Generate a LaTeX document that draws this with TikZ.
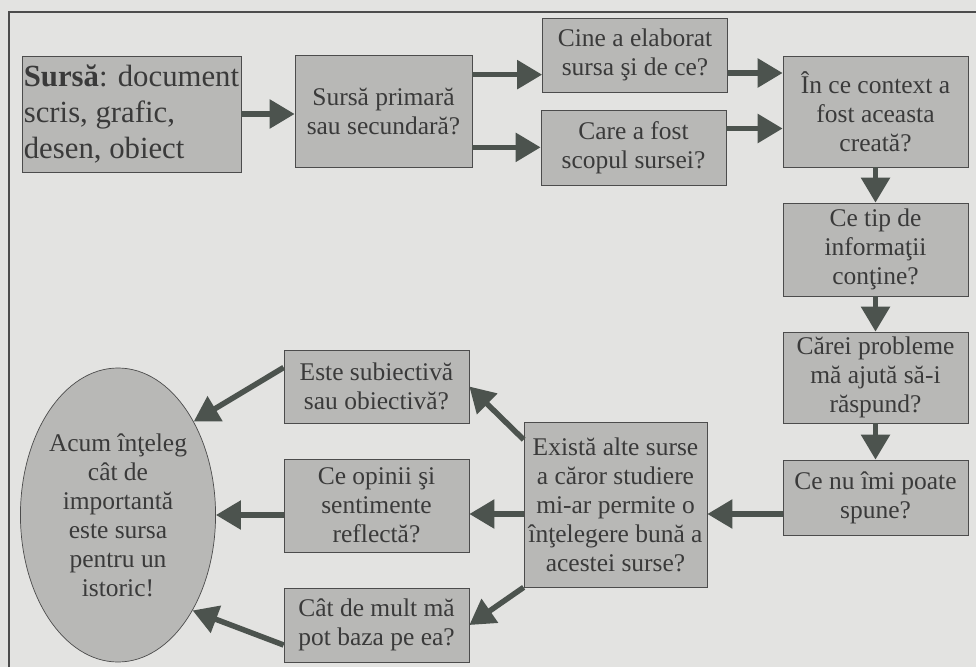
\documentclass[tikz,border=0pt]{standalone}
\usepackage{fontspec}
\setmainfont{Liberation Serif}
\usetikzlibrary{shapes.geometric,arrows.meta}

\definecolor{paper}{HTML}{E3E3E1}
\definecolor{boxgray}{HTML}{B8B8B6}
\definecolor{arrowgray}{HTML}{4C534E}
\definecolor{inkgray}{HTML}{3A3A3A}

\def \boxwidth {3.7cm}
\def \shaft {0.11cm}

\begin{document}
\begin{tikzpicture}[
  box/.style={draw=black!70, fill=boxgray, text=inkgray, align=center, inner sep=1pt,
    minimum width=\boxwidth, font=\fontsize{14.5}{16.5}\selectfont},
  arr/.style={draw=arrowgray, line width=\shaft, -{Triangle[length=0.5cm,width=0.56cm]}},
]
\fill[paper] (0,0) rectangle (19.52,-13.34);
\useasboundingbox (0,0) rectangle (19.52,-13.34);
\draw[line width=1.2pt, black!70] (0.18,-13.34) -- (0.18,-0.24) -- (19.52,-0.24);

% top row
\node[box, align=left, minimum width=4.34cm, minimum height=2.32cm,
  font=\fontsize{17.5}{20.5}\selectfont] (sursa) at (2.63,-2.28)
  {\textbf{Sursă}: document\\scris, grafic,\\desen, obiect};
\node[box, minimum width=3.54cm, minimum height=2.24cm] (tip) at (7.67,-2.22) {Sursă primară\\sau secundară?};
\node[box, minimum height=1.48cm] (cine) at (12.70,-1.10) {Cine a elaborat\\sursa şi de ce?};
\node[box, minimum height=1.50cm] (scop) at (12.67,-2.95) {Care a fost\\scopul sursei?};
\node[box, minimum height=2.22cm] (context) at (17.51,-2.23) {În ce context a\\fost aceasta\\creată?};

% right column
\node[box, minimum height=1.86cm] (info) at (17.51,-4.99) {Ce tip de\\informaţii\\conţine?};
\node[box, minimum height=1.82cm] (probleme) at (17.51,-7.55) {Cărei probleme\\mă ajută să-i\\răspund?};
\node[box, minimum height=1.50cm] (nuspune) at (17.51,-9.95) {Ce nu îmi poate\\spune?};

% bottom row
\node[box, minimum width=3.66cm, minimum height=3.30cm] (exista) at (12.31,-10.09)
  {Există alte surse\\a căror studiere\\mi-ar permite o\\înţelegere bună a\\acestei surse?};
\node[box, minimum height=1.46cm] (subiect) at (7.53,-7.73) {Este subiectivă\\sau obiectivă?};
\node[box, minimum height=1.86cm] (opinii) at (7.53,-10.11) {Ce opinii şi\\sentimente\\reflectă?};
\node[box, minimum height=1.48cm] (baza) at (7.53,-12.50) {Cât de mult mă\\pot baza pe ea?};
\node[box, ellipse, inner sep=0pt, minimum width=3.72cm, minimum height=5.88cm] (ell) at (2.36,-10.30)
  {Acum înţeleg\\cât de\\importantă\\este sursa\\pentru un\\istoric!};

\coordinate (t1) at ([yshift=-0.4cm]tip.north east);
\coordinate (t2) at ([yshift=0.4cm]tip.south east);
\coordinate (c1) at ([yshift=-0.36cm]cine.east);
\coordinate (s1) at ([yshift=0.38cm]scop.east);
\coordinate (n1) at ([yshift=-0.33cm]nuspune.west);
\coordinate (e1) at ([yshift=-0.36cm]exista.north west);
\coordinate (u1) at ([yshift=0.38cm]subiect.west);
\coordinate (b1) at ([yshift=-0.4cm]baza.west);

\draw[arr] (sursa.east) -- (sursa.east -| tip.west);
\draw[arr] (t1) -- (t1 -| cine.west);
\draw[arr] (t2) -- (t2 -| scop.west);
\draw[arr] (c1) -- (c1 -| context.west);
\draw[arr] (s1) -- (s1 -| context.west);
\draw[arr] (context.south) -- (info.north);
\draw[arr] (info.south) -- (probleme.north);
\draw[arr] (probleme.south) -- (nuspune.north);
\draw[arr] (n1) -- (n1 -| exista.east);
\draw[arr] (n1 -| exista.west) -- (n1 -| opinii.east);
\draw[arr] (e1) -- (subiect.east);
\draw[arr] (exista.south west) -- (baza.east);
\draw[arr] (opinii.west |- ell.east) -- (ell.east);
\draw[arr] (u1) -- (ell.51);
\draw[arr] (b1) -- (ell.-52);
\end{tikzpicture}
\end{document}
